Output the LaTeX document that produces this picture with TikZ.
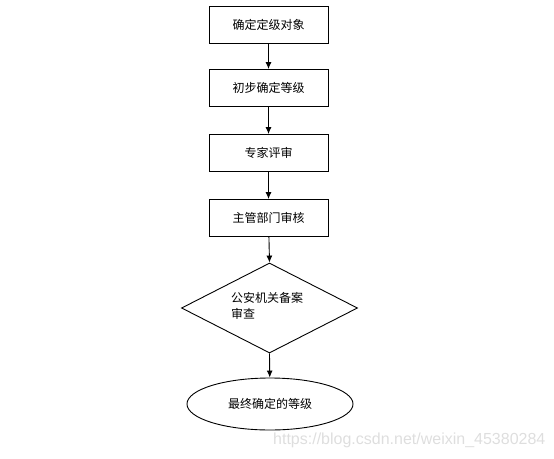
\documentclass[tikz,border=0pt]{standalone}
\usepackage{fontspec}
\newfontfamily\cjk{Noto Sans CJK SC}
\setsansfont{Liberation Sans}
\usetikzlibrary{shapes.geometric,arrows.meta}
\begin{document}
\begin{tikzpicture}[x=1pt,y=-1pt,
  every node/.style={font=\cjk\fontsize{12}{15}\selectfont},
  stepbox/.style={draw,line width=0.9pt,minimum width=119pt,minimum height=37pt,inner sep=0pt},
  conn/.style={draw,line width=0.9pt,-{Latex[length=7pt,width=6pt]}}]
\useasboundingbox (0,0) rectangle (554,458);
\node[stepbox] (a) at (268.5,24.5) {确定定级对象};
\node[stepbox] (b) at (268.5,88) {初步确定等级};
\node[stepbox] (c) at (268.5,153) {专家评审};
\node[stepbox] (d) at (268.5,218) {主管部门审核};
\node[draw,line width=0.9pt,diamond,minimum width=176pt,minimum height=90pt,inner sep=0pt] (e) at (269.5,308) {};
\node[anchor=north west,align=left,inner sep=0pt] (et) at (231,292) {公安机关备案\\[1pt]审查};
\node[draw,line width=0.9pt,ellipse,minimum width=166pt,minimum height=52pt,inner sep=0pt] (f) at (270,404) {最终确定的等级};
\draw[conn] (a) -- (b);
\draw[conn] (b) -- (c);
\draw[conn] (c) -- (d);
\draw[conn] (d) -- (e.north);
\draw[conn] (e.south) -- (f);
\node[anchor=west,inner sep=0pt,text=black!13,font=\sffamily\fontsize{16}{19}\selectfont] (w) at (273,440) {https://blog.csdn.net/weixin\_45380284};
\end{tikzpicture}
\end{document}
